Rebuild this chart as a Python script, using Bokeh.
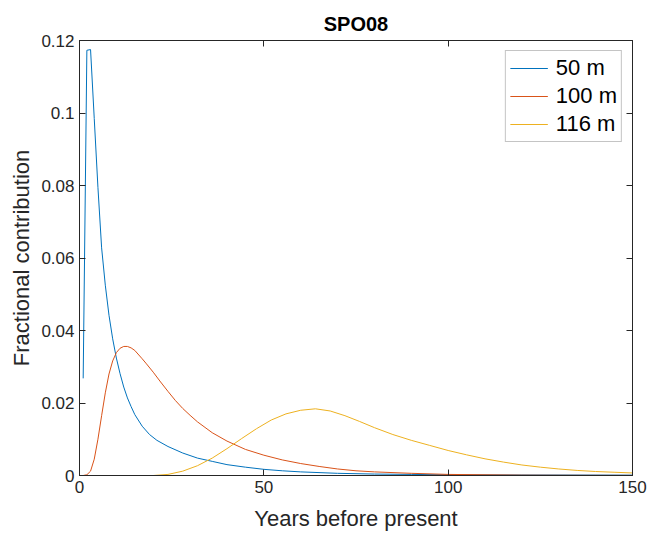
from bokeh.plotting import figure
from bokeh.models import Range1d, LinearAxis, FixedTicker, Legend, LegendItem
from bokeh.embed import file_html
from bokeh.resources import INLINE

# ---- data ----
years_50 = [1, 2, 3, 4, 5, 6, 7, 8, 9, 10, 11, 12, 13, 14, 15, 17, 19, 21, 24, 28,
            32, 36, 40, 45, 50, 55, 60, 70, 80, 90, 100, 120, 150]
frac_50 = [0.0268, 0.1173, 0.1175, 0.0985, 0.0795, 0.0628, 0.0525, 0.0442, 0.0377,
           0.0324, 0.0281, 0.0244, 0.0214, 0.0190, 0.0168, 0.0136, 0.0113, 0.0097,
           0.0080, 0.0062, 0.0048, 0.0039, 0.0030, 0.0023, 0.0017, 0.0013, 0.0010,
           0.0006, 0.0004, 0.0003, 0.0002, 0.00015, 0.0001]

years_100 = [1, 2, 3, 4, 5, 6, 7, 8, 9, 10, 11, 12, 13, 14, 15, 17, 18, 20, 22, 24,
             26, 28, 30, 32, 36, 40, 45, 50, 55, 60, 65, 70, 75, 80, 90, 100, 110,
             120, 135, 150]
frac_100 = [0.0, 0.0002, 0.0012, 0.0045, 0.0100, 0.0165, 0.0228, 0.0280, 0.0316,
            0.0339, 0.0351, 0.0356, 0.0356, 0.0352, 0.0345, 0.0322, 0.0310, 0.0285,
            0.0258, 0.0232, 0.0207, 0.0185, 0.0166, 0.0148, 0.0118, 0.0095, 0.0072,
            0.0056, 0.0043, 0.0033, 0.0025, 0.0018, 0.0013, 0.0010, 0.0006, 0.0003,
            0.0002, 0.0001, 0.00005, 0.00002]

years_116 = [1, 10, 20, 24, 28, 32, 36, 40, 44, 48, 52, 56, 60, 64, 68, 72, 76, 80,
             85, 90, 95, 100, 105, 110, 115, 120, 125, 130, 135, 140, 145, 150]
frac_116 = [0.0, 0.0, 0.0, 0.0003, 0.0012, 0.0027, 0.0048, 0.0074, 0.0102, 0.0129,
            0.0153, 0.0170, 0.0180, 0.0184, 0.0178, 0.0165, 0.0149, 0.0132, 0.0113,
            0.0097, 0.0083, 0.0069, 0.0057, 0.0046, 0.0037, 0.0029, 0.0023, 0.0018,
            0.0014, 0.0011, 0.0009, 0.0007]

series_labels = ["50 m", "100 m", "116 m"]
series_colors = ["#0072BD", "#D95319", "#EDB120"]

x_ticks = [0, 50, 100, 150]
y_ticks = [0, 0.02, 0.04, 0.06, 0.08, 0.1, 0.12]
y_tick_labels = ["0", "0.02", "0.04", "0.06", "0.08", "0.1", "0.12"]

FONT = "Liberation Sans"
AX = "#262626"

p = figure(width=647, height=533, output_backend="svg", toolbar_location=None,
           x_range=Range1d(0, 150), y_range=Range1d(0, 0.12),
           title="SPO08",
           min_border_left=79, min_border_right=15,
           min_border_top=40, min_border_bottom=55,
           background_fill_color="white", border_fill_color="white")

p.title.align = "center"
p.title.text_font = FONT
p.title.text_font_size = "20px"
p.title.text_font_style = "bold"
p.title.text_color = "black"
p.title.standoff = 12

p.xgrid.visible = False
p.ygrid.visible = False
p.outline_line_color = AX
p.outline_line_width = 1

for ax in p.xaxis:
    ax.ticker = FixedTicker(ticks=x_ticks)
    ax.axis_label = "Years before present"
for ax in p.yaxis:
    ax.ticker = FixedTicker(ticks=y_ticks)
    ax.major_label_overrides = {t: s for t, s in zip(y_ticks, y_tick_labels)}
    ax.axis_label = "Fractional contribution"

for ax in list(p.xaxis) + list(p.yaxis):
    ax.major_tick_in = 6
    ax.major_tick_out = 0
    ax.minor_tick_line_color = None
    ax.axis_line_color = AX
    ax.major_tick_line_color = AX
    ax.major_label_text_font = FONT
    ax.major_label_text_font_size = "17px"
    ax.major_label_text_color = AX
    ax.major_label_standoff = 5
    ax.axis_label_text_font = FONT
    ax.axis_label_text_font_size = "22px"
    ax.axis_label_text_font_style = "normal"
    ax.axis_label_text_color = AX
    ax.axis_label_standoff = 4
for ax in p.xaxis:
    ax.axis_label_standoff = 10

top_ax = LinearAxis(ticker=FixedTicker(ticks=x_ticks),
                    major_label_overrides={t: "" for t in x_ticks},
                    major_tick_in=6, major_tick_out=0, minor_tick_line_color=None,
                    axis_line_color=AX, major_tick_line_color=AX, major_label_standoff=0)
right_ax = LinearAxis(ticker=FixedTicker(ticks=y_ticks),
                      major_label_overrides={t: "" for t in y_ticks},
                      major_tick_in=6, major_tick_out=0, minor_tick_line_color=None,
                      axis_line_color=AX, major_tick_line_color=AX, major_label_standoff=0)
p.add_layout(top_ax, "above")
p.add_layout(right_ax, "right")

r1 = p.line(years_50, frac_50, line_color=series_colors[0], line_width=1)
r2 = p.line(years_100, frac_100, line_color=series_colors[1], line_width=1)
r3 = p.line(years_116, frac_116, line_color=series_colors[2], line_width=1)

legend = Legend(items=[LegendItem(label=series_labels[0], renderers=[r1]),
                       LegendItem(label=series_labels[1], renderers=[r2]),
                       LegendItem(label=series_labels[2], renderers=[r3])],
                location="top_right")
legend.label_text_font = FONT
legend.label_text_font_size = "22px"
legend.label_text_color = "black"
legend.glyph_width = 38
legend.glyph_height = 22
legend.label_height = 22
legend.label_standoff = 8
legend.padding = 4
legend.spacing = 2
legend.margin = 10
legend.border_line_color = "#8a8a8a"
legend.border_line_width = 1
legend.background_fill_color = "white"
legend.background_fill_alpha = 1
p.add_layout(legend)

open("out.html", "w").write(file_html(p, INLINE))
